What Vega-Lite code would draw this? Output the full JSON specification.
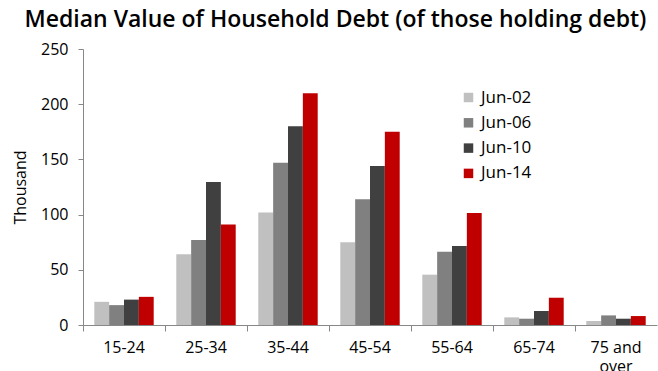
{
  "$schema": "https://vega.github.io/schema/vega-lite/v6.json",
  "width": 574,
  "height": 276,
  "autosize": {"type": "none"},
  "padding": {"left": 83, "top": 49, "right": 1, "bottom": 46},
  "background": "white",
  "title": {
    "text": "Median Value of Household Debt (of those holding debt)",
    "anchor": "start",
    "frame": "bounds",
    "dx": 12,
    "offset": 9,
    "font": "Open Sans",
    "fontSize": 23,
    "fontWeight": 600,
    "color": "#000000"
  },
  "data": {
    "values": [
      {"age": "15-24", "period": "Jun-02", "value": 21},
      {"age": "15-24", "period": "Jun-06", "value": 18},
      {"age": "15-24", "period": "Jun-10", "value": 23},
      {"age": "15-24", "period": "Jun-14", "value": 25.5},
      {"age": "25-34", "period": "Jun-02", "value": 64},
      {"age": "25-34", "period": "Jun-06", "value": 77},
      {"age": "25-34", "period": "Jun-10", "value": 129.5},
      {"age": "25-34", "period": "Jun-14", "value": 91},
      {"age": "35-44", "period": "Jun-02", "value": 102},
      {"age": "35-44", "period": "Jun-06", "value": 147},
      {"age": "35-44", "period": "Jun-10", "value": 180},
      {"age": "35-44", "period": "Jun-14", "value": 210},
      {"age": "45-54", "period": "Jun-02", "value": 75},
      {"age": "45-54", "period": "Jun-06", "value": 114},
      {"age": "45-54", "period": "Jun-10", "value": 144},
      {"age": "45-54", "period": "Jun-14", "value": 175},
      {"age": "55-64", "period": "Jun-02", "value": 45.6},
      {"age": "55-64", "period": "Jun-06", "value": 66.4},
      {"age": "55-64", "period": "Jun-10", "value": 71.5},
      {"age": "55-64", "period": "Jun-14", "value": 101.4},
      {"age": "65-74", "period": "Jun-02", "value": 6.9},
      {"age": "65-74", "period": "Jun-06", "value": 5.7},
      {"age": "65-74", "period": "Jun-10", "value": 12.7},
      {"age": "65-74", "period": "Jun-14", "value": 24.7},
      {"age": "75 and over", "period": "Jun-02", "value": 3.6},
      {"age": "75 and over", "period": "Jun-06", "value": 8.7},
      {"age": "75 and over", "period": "Jun-10", "value": 5.7},
      {"age": "75 and over", "period": "Jun-14", "value": 8.1}
    ]
  },
  "mark": {"type": "bar"},
  "encoding": {
    "x": {
      "field": "age",
      "type": "nominal",
      "sort": null,
      "scale": {"paddingInner": 0, "paddingOuter": 0},
      "axis": {
        "title": null,
        "labelAngle": 0,
        "bandPosition": 0,
        "labelFont": "Open Sans",
        "labelFontSize": 16,
        "labelColor": "#000000",
        "labelPadding": 8,
        "labelLineHeight": 19,
        "labelExpr": "datum.label == '75 and over' ? ['75 and', 'over'] : datum.label",
        "domainColor": "#888888",
        "tickColor": "#888888",
        "tickSize": 6,
        "grid": false
      }
    },
    "xOffset": {
      "field": "period",
      "type": "nominal",
      "scale": {"paddingInner": 0, "paddingOuter": 0.76}
    },
    "y": {
      "field": "value",
      "type": "quantitative",
      "scale": {"domain": [0, 250]},
      "axis": {
        "title": "Thousand",
        "titleFont": "Open Sans",
        "titleFontSize": 16,
        "titleFontWeight": "normal",
        "titleColor": "#000000",
        "titlePadding": 12,
        "values": [0, 50, 100, 150, 200, 250],
        "labelFont": "Open Sans",
        "labelFontSize": 16,
        "labelColor": "#000000",
        "labelPadding": 10,
        "domainColor": "#888888",
        "tickColor": "#888888",
        "tickSize": 5,
        "grid": false
      }
    },
    "color": {
      "field": "period",
      "type": "nominal",
      "scale": {
        "domain": ["Jun-02", "Jun-06", "Jun-10", "Jun-14"],
        "range": ["#c0c0c0", "#808080", "#404040", "#c00000"]
      },
      "legend": {
        "title": null,
        "orient": "none",
        "legendX": 377,
        "legendY": 40,
        "symbolType": "square",
        "symbolSize": 90,
        "symbolStrokeWidth": 0,
        "labelFont": "Open Sans",
        "labelFontSize": 17,
        "labelColor": "#000000",
        "rowPadding": 7.3,
        "labelOffset": 4
      }
    }
  },
  "config": {"view": {"stroke": null}}
}
